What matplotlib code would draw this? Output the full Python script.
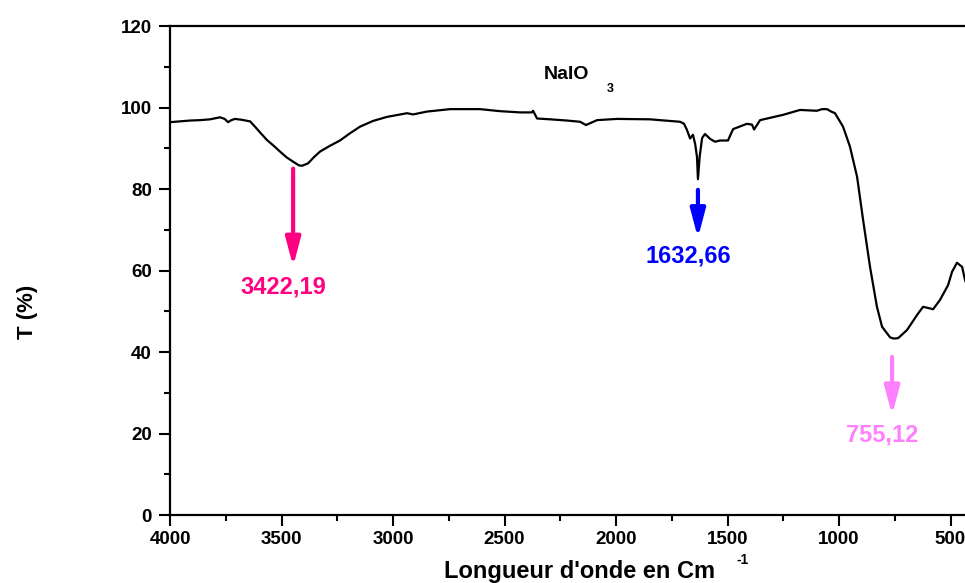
import matplotlib
matplotlib.use("Agg")
import matplotlib.pyplot as plt
from matplotlib.ticker import MultipleLocator

plt.rcParams['font.family'] = ['Liberation Sans', 'DejaVu Sans']
plt.rcParams['font.weight'] = 'bold'

# spectrum (wavenumber in cm-1, transmittance in %)
wavenumber = [4000, 3955, 3910, 3865, 3820, 3776, 3755, 3740, 3725, 3709, 3680,
              3641, 3619, 3595, 3565, 3535, 3507, 3478, 3448, 3422, 3408, 3381,
              3355, 3327, 3283, 3238, 3195, 3148, 3090, 3027, 2937, 2910, 2848,
              2744, 2610, 2520, 2430, 2377, 2372, 2354, 2296, 2220, 2161, 2135,
              2085, 1996, 1848, 1713, 1695, 1682, 1668, 1655, 1645, 1637, 1632.66,
              1625, 1614, 1601, 1578, 1556, 1534, 1498, 1475, 1413, 1390, 1381,
              1354, 1251, 1175, 1099, 1076, 1054, 1035, 1018, 982, 951, 919, 892,
              861, 830, 807, 771, 755.12, 735, 695, 650, 623, 600, 578, 547, 511,
              493, 471, 448, 435, 400]
transmittance = [96.4, 96.6, 96.8, 96.9, 97.1, 97.6, 97.2, 96.4, 96.9, 97.2, 97.0,
                 96.6, 95.3, 93.8, 92.0, 90.6, 89.2, 87.8, 86.7, 85.8, 85.7, 86.3,
                 87.8, 89.2, 90.6, 91.9, 93.6, 95.3, 96.7, 97.7, 98.6, 98.3, 99.0,
                 99.6, 99.6, 99.1, 98.8, 98.8, 99.2, 97.3, 97.1, 96.8, 96.5, 95.7,
                 96.9, 97.2, 97.1, 96.5, 96.0, 94.5, 92.4, 93.3, 91.0, 87.9, 82.4,
                 87.9, 92.5, 93.5, 92.3, 91.6, 91.9, 91.9, 94.7, 96.0, 95.8, 94.6,
                 96.9, 98.2, 99.4, 99.2, 99.6, 99.6, 99.0, 98.6, 95.3, 90.4, 83.0,
                 72.4, 60.9, 51.1, 46.2, 43.6, 43.3, 43.4, 45.4, 49.1, 51.1, 50.8,
                 50.5, 52.8, 56.4, 59.7, 61.9, 60.9, 57.7, 52.0]

# annotated peaks
peak_labels = ["3422,19", "1632,66", "755,12"]
peak_positions = [3448, 1632.66, 762]
peak_colors = ["#ff0080", "#0000ff", "#ff80ff"]
arrow_tops = [85.0, 79.8, 38.8]
arrow_bottoms = [61.0, 68.0, 24.5]
label_y = [56.0, 63.6, 19.6]

fig = plt.figure(figsize=(9.65, 5.83), dpi=100)
ax = fig.add_axes([0.1762, 0.1166, 0.8319, 0.8388])

ax.plot(wavenumber, transmittance, color='black', linewidth=1.6)

for lab, xp, col, y0, y1, yl in zip(peak_labels, peak_positions, peak_colors,
                                    arrow_tops, arrow_bottoms, label_y):
    ax.annotate("", xy=(xp, y1), xytext=(xp, y0),
                arrowprops=dict(arrowstyle="-|>,head_width=0.45,head_length=1.7",
                                color=col, lw=3, shrinkA=0, shrinkB=0))
    ax.text(xp + 45, yl, lab, color=col, fontsize=17, fontweight='bold',
            ha='center', va='center')

ax.text(2220, 108, "NaIO", fontsize=14, fontweight='bold', ha='center', va='center')
ax.text(2025, 104.6, "3", fontsize=9, fontweight='bold', ha='center', va='center')

ax.set_xlim(4000, 400)
ax.set_ylim(0, 120)
ax.xaxis.set_major_locator(MultipleLocator(500))
ax.xaxis.set_minor_locator(MultipleLocator(250))
ax.yaxis.set_major_locator(MultipleLocator(20))
ax.yaxis.set_minor_locator(MultipleLocator(10))
ax.tick_params(which='major', direction='out', length=8, width=1.5, labelsize=13.5)
ax.tick_params(which='minor', direction='out', length=4.5, width=1.5)
ax.tick_params(axis='y', pad=5)
for lbl in ax.get_xticklabels() + ax.get_yticklabels():
    lbl.set_fontweight('bold')
for sp in ax.spines.values():
    sp.set_linewidth(1.6)

ax.set_xlabel("Longueur d'onde en Cm", fontsize=17, fontweight='bold')
ax.xaxis.set_label_coords(0.51, -0.092)
ax.text(0.706, -0.077, "-1", transform=ax.transAxes, fontsize=10,
        fontweight='bold', ha='left', va='top')
ax.set_ylabel("T (%)", fontsize=16, fontweight='bold')
ax.yaxis.set_label_coords(-0.165, 0.415)

fig.savefig("out.png", dpi=100)
